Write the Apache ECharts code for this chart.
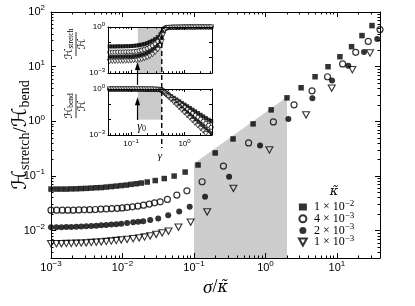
<!DOCTYPE html>
<html>
<head>
<meta charset="utf-8">
<script src="https://cdn.jsdelivr.net/npm/echarts@6/dist/echarts.min.js"></script>
<style>
html,body{margin:0;padding:0;background:#ffffff;}
#chart{width:415px;height:306px;}
</style>
</head>
<body>
<div id="chart"></div>
<script>
// ================= data =================
const kappaNames = ['1 × 10^-2', '4 × 10^-3', '2 × 10^-3', '1 × 10^-3'];

// main panel: x = sigma / kappa~, y = H_stretch / H_bend
const sqX = [0.001,0.00119,0.0014,0.00164,0.00192,0.00226,0.00265,0.00311,0.00366,0.0043,0.00505,0.00593,0.00697,0.00818,0.0096,0.0113,0.0132,0.0156,0.0183,0.0222,0.0287,0.0384,0.0528,0.0753,0.114,0.198,0.352,0.671,1.2,2.0,3.15,4.94,7.5,11.0,16.0,22.4,30.9];
const sqY = [0.0576,0.0576,0.0576,0.0576,0.0581,0.0583,0.0589,0.0594,0.0601,0.0609,0.0614,0.0627,0.064,0.0654,0.0668,0.0682,0.0703,0.0721,0.0743,0.0775,0.0825,0.0898,0.0997,0.118,0.159,0.264,0.476,0.898,1.62,2.69,4.11,6.54,9.98,15.2,23.2,37.0,56.4];
const ocX = [0.001,0.0012,0.00144,0.00172,0.00205,0.00245,0.00292,0.00348,0.00416,0.00497,0.00593,0.00708,0.00845,0.0099,0.0116,0.0138,0.0164,0.0197,0.0237,0.0281,0.0337,0.0425,0.0576,0.0796,0.13,0.258,0.581,1.29,2.51,4.48,7.38,12.0,18.3,27.4,40];
const ocY = [0.0237,0.0237,0.0237,0.0237,0.0237,0.0239,0.024,0.0242,0.0244,0.0248,0.025,0.0253,0.0256,0.0261,0.0266,0.0273,0.0281,0.0293,0.0306,0.0323,0.0337,0.0373,0.0447,0.0536,0.0784,0.152,0.403,0.977,2.0,3.62,6.54,11.2,18.3,29.0,47.6];
const fcX = [0.001,0.00119,0.0014,0.00164,0.00192,0.00226,0.00265,0.00311,0.00366,0.0043,0.00505,0.00593,0.00697,0.00818,0.0096,0.0116,0.0141,0.0166,0.0195,0.0244,0.0316,0.0436,0.0621,0.0871,0.143,0.31,0.841,2.09,4.53,8.53,14.4,23.9,36.6];
const fcY = [0.0116,0.0116,0.0116,0.0117,0.0117,0.0118,0.0119,0.0121,0.0122,0.0123,0.0125,0.0127,0.0129,0.0131,0.0134,0.0138,0.0142,0.0145,0.0149,0.0156,0.0167,0.0192,0.0223,0.0275,0.0416,0.0969,0.362,1.1,2.64,5.6,10.4,18.6,32.1];
const trX = [0.001,0.00119,0.0014,0.00164,0.00192,0.00226,0.00265,0.00311,0.00366,0.0043,0.00505,0.00593,0.00697,0.00818,0.0096,0.0116,0.0141,0.0171,0.0203,0.0244,0.0296,0.0359,0.044,0.0607,0.0899,0.153,0.356,1.135,3.7,8.45,16.4,29.0];
const trY = [0.00576,0.00576,0.00579,0.00581,0.00583,0.00588,0.00593,0.00599,0.00606,0.00614,0.00622,0.00632,0.00646,0.0066,0.00677,0.00691,0.00712,0.00736,0.00765,0.00801,0.00853,0.00909,0.00977,0.0116,0.0143,0.0221,0.0593,0.299,1.31,4.06,8.79,17.8];

// grey region of the main panel (top edge)
const greyX = [0.1, 2.0];
const greyTop = [0.17, 2.8];

// inset: x = gamma
const insetGamma = [0.0398,0.0447,0.0501,0.0562,0.0631,0.0708,0.0794,0.0891,0.1,0.112,0.126,0.141,0.158,0.178,0.2,0.224,0.251,0.282,0.316,0.355,0.376,0.398,0.422,0.447,0.473,0.501,0.562,0.631,0.708,0.794,0.891,1.0,1.12,1.26,1.41,1.58,1.78,2.0,2.24,2.51,2.82,3.16];
// inset top: H_stretch / H
const stS = [0.0537,0.0537,0.0537,0.055,0.055,0.055,0.0562,0.0562,0.0575,0.0589,0.0617,0.0661,0.0708,0.0776,0.0891,0.107,0.129,0.162,0.219,0.331,0.437,0.631,0.794,0.891,0.923,0.933,0.944,0.955,0.955,0.966,0.966,0.977,0.977,0.977,0.977,0.977,0.989,0.989,0.989,0.989,0.989,0.989];
const stC = [0.0229,0.0229,0.0229,0.0234,0.0234,0.0234,0.024,0.024,0.0245,0.0251,0.0263,0.0282,0.0309,0.0347,0.0398,0.0479,0.0603,0.0794,0.115,0.191,0.282,0.501,0.724,0.851,0.902,0.923,0.944,0.955,0.955,0.966,0.966,0.977,0.977,0.977,0.977,0.977,0.989,0.989,0.989,0.989,0.989,0.989];
const stF = [0.0115,0.0115,0.0115,0.0117,0.0117,0.0117,0.012,0.012,0.0123,0.0126,0.0132,0.0141,0.0155,0.0174,0.0204,0.0251,0.0324,0.0437,0.0646,0.112,0.182,0.398,0.661,0.813,0.881,0.912,0.944,0.955,0.955,0.966,0.966,0.977,0.977,0.977,0.977,0.977,0.989,0.989,0.989,0.989,0.989,0.989];
const stT = [0.00575,0.00575,0.00575,0.00589,0.00589,0.00589,0.00603,0.00603,0.00617,0.00631,0.00661,0.00708,0.00776,0.0087,0.0102,0.0123,0.0158,0.0219,0.0331,0.0603,0.112,0.316,0.603,0.776,0.861,0.902,0.933,0.944,0.955,0.955,0.966,0.966,0.977,0.977,0.977,0.977,0.989,0.989,0.989,0.989,0.989,0.989];
// inset bottom: H_bend / H
const bdS = [0.946,0.946,0.946,0.945,0.945,0.945,0.944,0.944,0.943,0.941,0.938,0.934,0.929,0.922,0.911,0.9,0.89,0.875,0.86,0.85,0.832,0.733,0.646,0.569,0.501,0.442,0.343,0.266,0.207,0.16,0.124,0.0966,0.075,0.0582,0.0452,0.0351,0.0272,0.0211,0.0164,0.0127,0.00989,0.00767];
const bdC = [0.977,0.977,0.977,0.977,0.977,0.976,0.976,0.976,0.975,0.975,0.974,0.972,0.969,0.965,0.96,0.952,0.94,0.925,0.905,0.88,0.813,0.7,0.603,0.519,0.447,0.385,0.285,0.211,0.157,0.116,0.0861,0.0638,0.0473,0.0351,0.026,0.0193,0.0143,0.0106,0.00785,0.00582,0.00432,0.0032];
const bdF = [0.988,0.988,0.988,0.988,0.988,0.988,0.988,0.987,0.987,0.987,0.986,0.985,0.983,0.98,0.975,0.968,0.958,0.94,0.915,0.87,0.794,0.668,0.562,0.473,0.398,0.335,0.237,0.168,0.119,0.0841,0.0596,0.0422,0.0299,0.0211,0.015,0.0106,0.0075,0.00531,0.00376,0.00266,0.00188,0.00133];
const bdT = [0.994,0.994,0.994,0.994,0.994,0.994,0.994,0.993,0.993,0.993,0.993,0.992,0.991,0.989,0.986,0.982,0.975,0.96,0.935,0.88,0.776,0.638,0.525,0.432,0.355,0.292,0.197,0.133,0.0902,0.061,0.0412,0.0279,0.0188,0.0127,0.0086,0.00582,0.00394,0.00266,0.0018,0.00122,0.00082,0.00056];

// inset annotations
const insetBand = [0.134, 0.375];      // grey band in gamma
const insetBandBottomY = [0.01, 1];     // grey band height in the lower inset
const gammaDash = 0.375;                // dashed line
const gamma0 = 0.132;                   // arrows

// axes ranges / tick labels
const mainXRange = [0.001, 40];
const mainYRange = [0.00316, 100];
const insetXRange = [0.037, 3.27];
const insetYRange = [0.001, 1];
const mainXTicks = [0.001, 0.01, 0.1, 1, 10];
const mainXTickLabels = ['10^-3', '10^-2', '10^-1', '10^0', '10^1'];
const mainYTicks = [0.01, 0.1, 1, 10, 100];
const mainYTickLabels = ['10^-2', '10^-1', '10^0', '10^1', '10^2'];
const insetXTicks = [0.1, 1];
const insetXTickLabels = ['10^-1', '10^0'];
const insetYTicks = [0.001, 1];
const insetYTickLabels = ['10^-3', '10^0'];

// ================= helpers =================
const LG = v => Math.log10(v);
const SANS = 'Liberation Sans, Arial, Helvetica, sans-serif';
const SERIF = 'Liberation Serif, DejaVu Serif, serif';
const DSERIF = 'DejaVu Serif, serif';
const SCRIPT = 'DejaVu Serif, DejaVu Sans, serif';

function supText(s) {
  const p = s.split('^');
  return p.length > 1 ? p[0] + '{sup|' + p[1].replace('-', '\u2212') + '}' : s;
}
function decadeTicks(lo, hi, mults) {
  const out = [];
  for (let e = Math.floor(LG(lo)) - 1; e <= Math.ceil(LG(hi)); e++) {
    for (const m of mults) {
      const v = m * Math.pow(10, e);
      if (v >= lo * 0.9999 && v <= hi * 1.0001) out.push(LG(v));
    }
  }
  return out;
}
function logAxes(dim, grid, range, o) {
  const isX = dim === 'x';
  const mn = LG(range[0]), mx = LG(range[1]);
  const majors = decadeTicks(range[0], range[1], [1]);
  const minors = o.minorMults ? decadeTicks(range[0], range[1], o.minorMults) : [];
  const labelVals = (o.labelTicks || []).map(LG);
  const labelMap = {};
  (o.labelTicks || []).forEach((v, i) => { labelMap[LG(v).toFixed(3)] = supText(o.labelTexts[i]); });
  const mk = (pos, vals, len, line, labels) => {
    const a = {
      type: 'value', gridIndex: grid, position: pos, min: mn, max: mx, z: 5,
      axisLine: { show: line, onZero: false, lineStyle: { color: '#000', width: 1 } },
      axisTick: { show: vals.length > 0, inside: true, length: len, customValues: vals.length ? vals : undefined,
                  lineStyle: { color: '#000', width: 1 } },
      axisLabel: { show: false },
      splitLine: { show: false }, splitArea: { show: false },
      axisPointer: { show: false }, silent: true, nameMoveOverlap: false
    };
    if (labels) {
      a.axisLabel = {
        show: true, customValues: labelVals,
        formatter: v => labelMap[Number(v).toFixed(3)] || '',
        color: '#000', fontFamily: SANS, fontSize: o.fontSize, margin: o.margin,
        rich: { sup: { fontSize: o.supSize, fontFamily: SANS, color: '#000', padding: [0, 0, o.supRaise, 0] } }
      };
      if (o.name) Object.assign(a, o.name);
    }
    return a;
  };
  const p1 = isX ? 'bottom' : 'left', p2 = isX ? 'top' : 'right';
  return [
    mk(p1, majors, o.majorLen, true, !!o.labelTicks),
    mk(p1, minors, o.minorLen, false, false),
    mk(p2, majors, o.majorLen, true, false),
    mk(p2, minors, o.minorLen, false, false)
  ];
}
const pts = (xs, ys) => xs.map((x, i) => [LG(x), LG(ys[i])]);

// ================= axes =================
const M2_9 = [2, 3, 4, 5, 6, 7, 8, 9];
const xAxes = [].concat(
  logAxes('x', 0, mainXRange, {
    minorMults: M2_9, majorLen: 5, minorLen: 2.5, labelTicks: mainXTicks, labelTexts: mainXTickLabels,
    fontSize: 11, supSize: 8, supRaise: 8, margin: 2,
    name: { name: '{t|\u03c3}{s|/}{k|\u03ba\u0303}', nameLocation: 'middle', nameGap: 20,
            nameTextStyle: { rich: {
              t: { fontFamily: SERIF, fontStyle: 'italic', fontSize: 19, color: '#000' },
              k: { fontFamily: DSERIF, fontStyle: 'italic', fontSize: 16, color: '#000' },
              s: { fontFamily: SERIF, fontSize: 18, color: '#000' } } } }
  }),
  logAxes('x', 1, insetXRange, { minorMults: M2_9, majorLen: 3, minorLen: 1.8 }),
  logAxes('x', 2, insetXRange, {
    minorMults: M2_9, majorLen: 3, minorLen: 1.8, labelTicks: insetXTicks, labelTexts: insetXTickLabels,
    fontSize: 8, supSize: 6, supRaise: 6, margin: 3,
    name: { name: '\u03b3', nameLocation: 'middle', nameGap: 16,
            nameTextStyle: { fontFamily: SERIF, fontStyle: 'italic', fontSize: 11, color: '#000' } }
  })
);
const yAxes = [].concat(
  logAxes('y', 0, mainYRange, {
    minorMults: M2_9, majorLen: 5, minorLen: 2.5, labelTicks: mainYTicks, labelTexts: mainYTickLabels,
    fontSize: 11, supSize: 8, supRaise: 8, margin: 6,
    name: { name: '{h|\u210b}{s|stretch}{sl|/}{h|\u210b}{s|bend}', nameLocation: 'middle', nameGap: 19, nameRotate: 90,
            nameTextStyle: { rich: {
              h: { fontFamily: SCRIPT, fontSize: 20, color: '#000' },
              sl: { fontFamily: SERIF, fontSize: 19, color: '#000' },
              s: { fontFamily: SERIF, fontSize: 14, color: '#000', padding: [8, 0, 0, 0] } } } }
  }),
  logAxes('y', 1, insetYRange, {
    majorLen: 3, minorLen: 1.8, labelTicks: insetYTicks, labelTexts: insetYTickLabels,
    fontSize: 8, supSize: 6, supRaise: 6, margin: 3
  }),
  logAxes('y', 2, insetYRange, {
    majorLen: 3, minorLen: 1.8, labelTicks: insetYTicks, labelTexts: insetYTickLabels,
    fontSize: 8, supSize: 6, supRaise: 6, margin: 3
  })
);

// ================= series =================
const TRI_DOWN = 'path://M0,0 L10,0 L5,9 Z';
const styles = [
  { symbol: 'rect', size: 5.5, item: { color: '#000' } },
  { symbol: 'circle', size: 6, item: { color: 'rgba(0,0,0,0)', borderColor: '#000', borderWidth: 1.2 } },
  { symbol: 'circle', size: 6, item: { color: '#000' } },
  { symbol: TRI_DOWN, size: [7, 6.3], item: { color: 'rgba(0,0,0,0)', borderColor: '#000', borderWidth: 1.1 } }
];
const mainData = [pts(sqX, sqY), pts(ocX, ocY), pts(fcX, fcY), pts(trX, trY)];
const series = [];
series.push({
  type: 'line', name: 'grey region', xAxisIndex: 0, yAxisIndex: 0, data: pts(greyX, greyTop),
  symbol: 'none', lineStyle: { width: 0, color: '#cdcdcd' }, areaStyle: { color: '#cdcdcd', opacity: 1, origin: 'start' },
  silent: true, z: 1
});
mainData.forEach((d, i) => {
  series.push({
    type: 'scatter', name: kappaNames[i], xAxisIndex: 0, yAxisIndex: 0, data: d,
    symbol: styles[i].symbol, symbolSize: styles[i].size, itemStyle: styles[i].item, clip: false, z: 3, silent: true
  });
});
// inset grey bands
series.push({
  type: 'scatter', name: 'inset band top', xAxisIndex: 4, yAxisIndex: 4, data: [], z: 1, silent: true,
  markArea: { silent: true, itemStyle: { color: '#cacaca' }, data: [[{ xAxis: LG(insetBand[0]) }, { xAxis: LG(insetBand[1]) }]] }
});
series.push({
  type: 'scatter', name: 'inset band bottom', xAxisIndex: 8, yAxisIndex: 8, data: [], z: 1, silent: true,
  markArea: { silent: true, itemStyle: { color: '#cacaca' },
    data: [[{ xAxis: LG(insetBand[0]), yAxis: LG(insetBandBottomY[1]) }, { xAxis: LG(insetBand[1]), yAxis: LG(insetBandBottomY[0]) }]] }
});
const insetStyles = [
  { symbol: 'rect', size: 4, item: { color: '#000' } },
  { symbol: 'circle', size: 4.2, item: { color: '#fff', borderColor: '#000', borderWidth: 0.9 } },
  { symbol: 'circle', size: 4.2, item: { color: '#000' } },
  { symbol: TRI_DOWN, size: [5, 4.5], item: { color: '#fff', borderColor: '#000', borderWidth: 0.8 } }
];
[stS, stC, stF, stT].forEach((ys, i) => {
  series.push({ type: 'scatter', name: 'inset stretch ' + i, xAxisIndex: 4, yAxisIndex: 4, data: pts(insetGamma, ys),
    symbol: insetStyles[i].symbol, symbolSize: insetStyles[i].size, itemStyle: insetStyles[i].item, clip: false, z: 3, silent: true });
});
[bdS, bdC, bdF, bdT].forEach((ys, i) => {
  series.push({ type: 'scatter', name: 'inset bend ' + i, xAxisIndex: 8, yAxisIndex: 8, data: pts(insetGamma, ys),
    symbol: insetStyles[i].symbol, symbolSize: insetStyles[i].size, itemStyle: insetStyles[i].item, clip: true, z: 3, silent: true });
});

// ================= static graphics (labels) =================
function fraction(cx, cy, sub) {
  return {
    type: 'group', x: cx, y: cy, rotation: Math.PI / 2, silent: true, children: [
      { type: 'text', x: 0, y: -1, style: { text: '{h|\u210b}{s|' + sub + '}', align: 'center', verticalAlign: 'bottom', fill: '#000',
          rich: { h: { fontFamily: SCRIPT, fontSize: 11, fill: '#000' }, s: { fontFamily: SERIF, fontSize: 7.5, fill: '#000', padding: [4, 0, 0, 0] } } } },
      { type: 'line', shape: { x1: -12, y1: 0, x2: 12, y2: 0 }, style: { stroke: '#000', lineWidth: 0.8 } },
      { type: 'text', x: 0, y: 1, style: { text: '\u210b', align: 'center', verticalAlign: 'top', fill: '#000', fontFamily: SCRIPT, fontSize: 11 } }
    ]
  };
}
const staticGraphics = [
  fraction(76, 44, 'stretch'),
  fraction(76, 106, 'bend'),
  { type: 'text', x: 334, y: 192, silent: true,
    style: { text: '\u03ba\u0303', align: 'center', verticalAlign: 'middle', fill: '#000', fontFamily: DSERIF, fontStyle: 'italic', fontSize: 13 } }
];

const option = {
  animation: false,
  backgroundColor: '#ffffff',
  grid: [
    { left: 51, top: 12, width: 329, height: 246, outerBoundsMode: 'none' },
    { left: 108, top: 27, width: 104, height: 46, outerBoundsMode: 'none' },
    { left: 108, top: 89, width: 104, height: 46, outerBoundsMode: 'none' }
  ],
  xAxis: xAxes,
  yAxis: yAxes,
  legend: {
    data: kappaNames, orient: 'vertical', left: 293, top: 194, itemWidth: 8, itemHeight: 7, itemGap: -2.3,
    selectedMode: false,
    formatter: n => supText(n),
    textStyle: { fontFamily: SERIF, fontSize: 12, color: '#000', padding: [0, 0, 0, 2],
      rich: { sup: { fontFamily: SERIF, fontSize: 9, color: '#000', padding: [0, 0, 7, 0] } } }
  },
  series: series,
  graphic: staticGraphics
};

const chart = echarts.init(document.getElementById('chart'), null, { renderer: 'canvas', width: 415, height: 306 });
chart.setOption(option);

// ================= annotations placed through the axes =================
const px = (xi, v) => chart.convertToPixel({ xAxisIndex: xi }, v);
const py = (yi, v) => chart.convertToPixel({ yAxisIndex: yi }, v);
const dashX = px(4, LG(gammaDash));
const arrowX = px(4, LG(gamma0));
function arrow(x, yTail, yTip) {
  return [
    { type: 'line', silent: true, z: 10, shape: { x1: x, y1: yTail, x2: x, y2: yTip + 6 }, style: { stroke: '#000', lineWidth: 1.2 } },
    { type: 'polygon', silent: true, z: 10, shape: { points: [[x, yTip], [x - 2.6, yTip + 8], [x + 2.6, yTip + 8]] }, style: { fill: '#000' } }
  ];
}
const extra = [].concat(
  [{ type: 'line', silent: true, z: 10,
     shape: { x1: dashX, y1: py(4, LG(1)), x2: dashX, y2: py(8, LG(1)) + (py(8, LG(0.001)) - py(8, LG(1))) * 1.28 },
     style: { stroke: '#000', lineWidth: 1.4, lineDash: [5, 3] } }],
  arrow(arrowX, py(4, -3.78), py(4, -2.28)),
  arrow(arrowX, py(8, -2.02), py(8, -0.54)),
  [{ type: 'text', silent: true, z: 10, x: arrowX + 4, y: py(8, -2.45),
     style: { text: '{g|\u03b3}{s|0}', align: 'center', verticalAlign: 'middle', fill: '#000',
       rich: { g: { fontFamily: SERIF, fontStyle: 'italic', fontSize: 12, fill: '#000' },
               s: { fontFamily: SERIF, fontSize: 8, fill: '#000', padding: [5, 0, 0, 0] } } } }]
);
chart.setOption({ graphic: staticGraphics.concat(extra) });
</script>
</body>
</html>
